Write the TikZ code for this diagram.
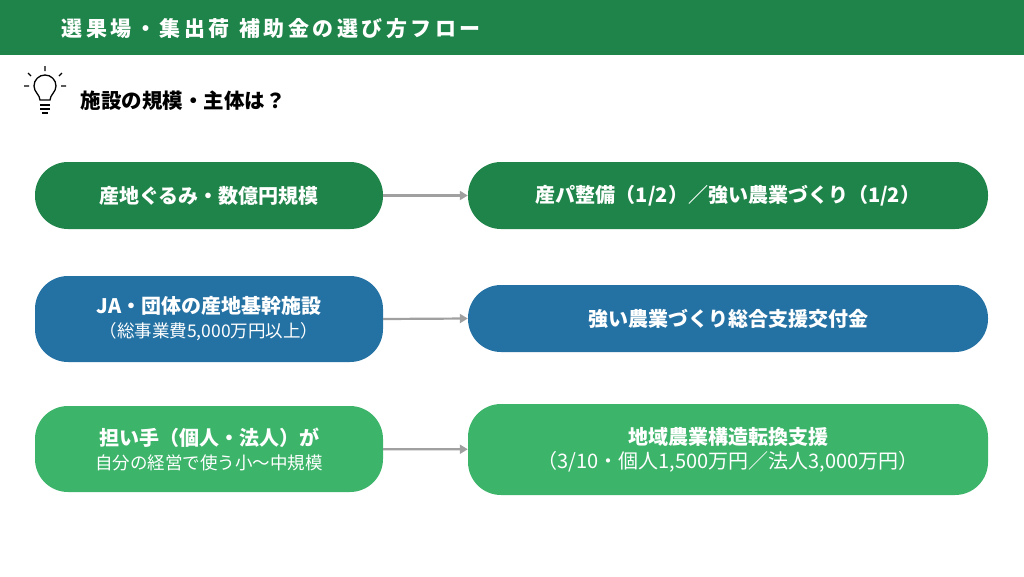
\documentclass[tikz,border=0pt]{standalone}
\usepackage{fontspec}
\setmainfont{Noto Sans CJK JP}
\usetikzlibrary{arrows.meta}
\definecolor{hdr}{HTML}{1E8449}
\definecolor{gA}{HTML}{1E8449}
\definecolor{bB}{HTML}{2471A3}
\definecolor{gC}{HTML}{3CB46A}
\definecolor{arr}{HTML}{A0A0A0}
\begin{document}
\begin{tikzpicture}[x=1pt,y=-1pt,
 pill/.style={rounded corners=33pt,text=white,align=center,font=\fontsize{20}{26}\selectfont\bfseries},
 ar/.style={draw=arr,line width=2.2pt,-{Triangle[length=8pt,width=9pt]}}]
\useasboundingbox (0,0) rectangle (1024,576);
\fill[hdr] (0,0) rectangle (1024,55);
\node[anchor=west,text=white,font=\fontsize{21}{24}\selectfont\bfseries] (title) at (58,29) {選\,果\,場\,・\,集\,出\,荷\ \ 補\,助\,金\,の\,選\,び\,方\,フ\,ロ\,ー};
% bulb
\begin{scope}[shift={(45,92)},line width=1.3pt]
\draw (-5,8) .. controls (-5,3) and (-11,0) .. (-11,-6) arc[start angle=180,end angle=360,radius=11] .. controls (11,0) and (5,3) .. (5,8) -- cycle;
\draw (-5,13) -- (5,13) (-5,17) -- (5,17) (-3,21) -- (3,21);
\draw (0,-21) -- (0,-26) (-14,-16)--(-17,-19) (14,-16)--(17,-19) (-16,-6)--(-21,-6) (16,-6)--(21,-6);
\end{scope}
\node[anchor=west,font=\fontsize{20.5}{24}\selectfont\bfseries] (q) at (77,101) {施設の規模・主体は？};
\node[pill,fill=gA,minimum width=348pt,minimum height=67pt] (l1) at (209,195.5) {産地ぐるみ・数億円規模};
\node[pill,fill=gA,minimum width=520pt,minimum height=67pt] (r1) at (728,195.5) {産パ整備（1/2）／強い農業づくり（1/2）};
\node[pill,fill=bB,minimum width=348pt,minimum height=86pt] (l2) at (209,319) {JA・団体の産地基幹施設\\[-2pt]{\fontsize{17.5}{21}\selectfont\mdseries（総事業費5,000万円以上）}};
\node[pill,fill=bB,minimum width=520pt,minimum height=67pt] (r2) at (728,318.5) {強い農業づくり総合支援交付金};
\node[pill,fill=gC,minimum width=348pt,minimum height=86pt] (l3) at (209,449) {担い手（個人・法人）が\\[-2pt]{\fontsize{17.5}{21}\selectfont\mdseries 自分の経営で使う小〜中規模}};
\node[pill,fill=gC,minimum width=520pt,minimum height=91pt] (r3) at (728,449.5) {地域農業構造転換支援\\[-2pt]{\fontsize{20}{24}\selectfont\mdseries（3/10・個人1,500万円／法人3,000万円）}};
\draw[ar] (l1) -- (r1);
\draw[ar] (l2.east) -- (r2.west);
\draw[ar] (l3) -- (r3);
\end{tikzpicture}
\end{document}
